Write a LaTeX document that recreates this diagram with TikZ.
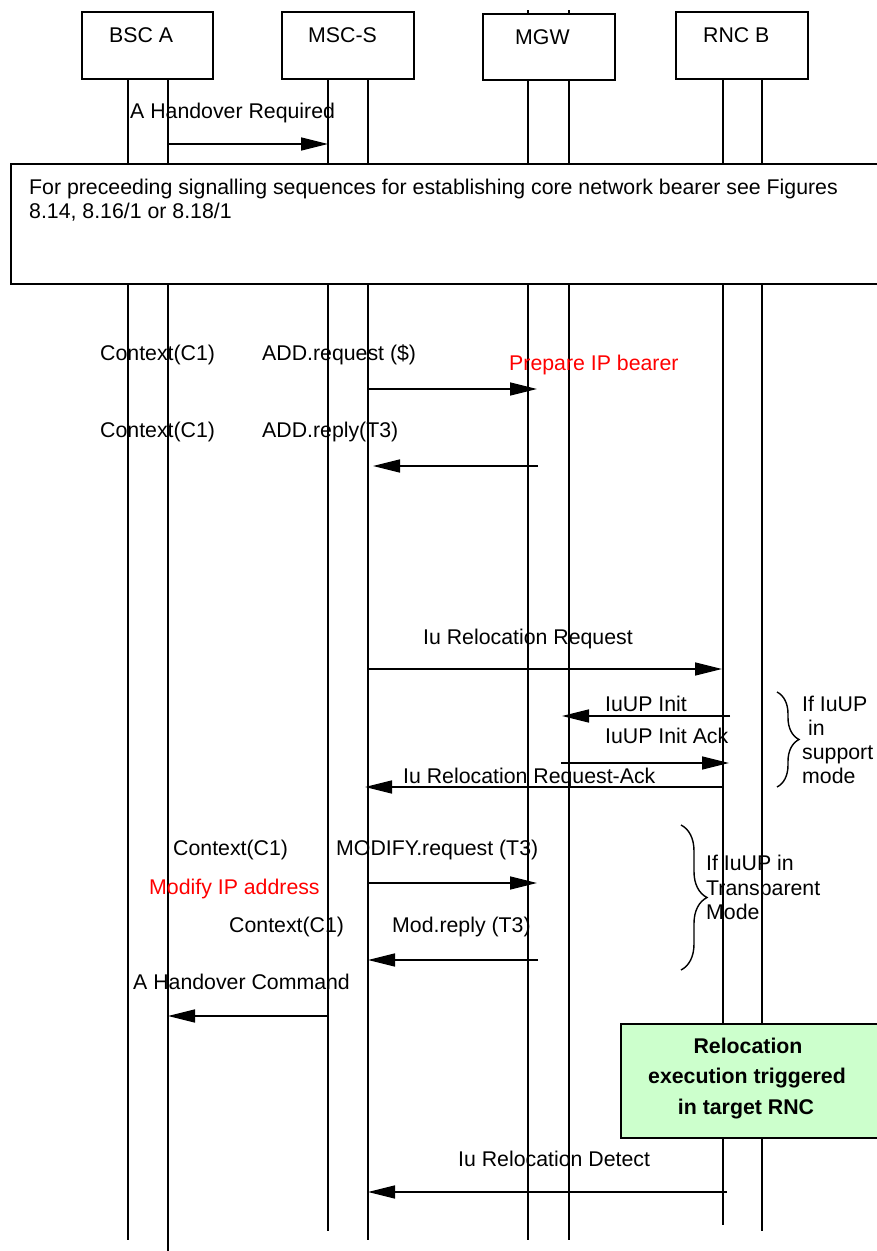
\documentclass[tikz,border=0pt]{standalone}
\usepackage{fontspec}
\setmainfont{Liberation Sans}
\usetikzlibrary{arrows.meta,decorations.pathreplacing}
\definecolor{boxgreen}{HTML}{CCFFCC}
\begin{document}
\begin{tikzpicture}[x=1pt,y=-1pt,
  txt/.style={anchor=base west, inner sep=0pt, font=\fontsize{21.3}{24.7}\selectfont},
  redtxt/.style={txt, text=red},
  boldtxt/.style={anchor=base, inner sep=0pt, font=\fontsize{21.3}{31}\selectfont\bfseries},
  msg/.style={line width=1.6pt, -{Triangle[length=27pt,width=13pt]}},
  life/.style={line width=1.6pt},
  ent/.style={draw, line width=1.6pt, fill=white, inner sep=0pt},
  brc/.style={line width=1.4pt, decorate}
]
\clip (0,0) rectangle (877,1251);
\fill[white] (0,0) rectangle (877,1251);

% lifelines
\draw[life] (128,78) -- (128,1240);
\draw[life] (168,78) -- (168,1260);
\draw[life] (328,78) -- (328,1231);
\draw[life] (368,78) -- (368,1240);
\draw[life] (528,10) -- (528,1240);
\draw[life] (569,10) -- (569,1240);
\draw[life] (723,78) -- (723,1225);
\draw[life] (762,78) -- (762,1231);

% entity boxes
\node[ent, minimum width=131pt, minimum height=67pt, anchor=north west] (bsca) at (81,11) {};
\node[ent, minimum width=132pt, minimum height=67pt, anchor=north west] (mscs) at (281,11) {};
\node[ent, minimum width=132pt, minimum height=66pt, anchor=north west] (mgw) at (482,13) {};
\node[ent, minimum width=132pt, minimum height=67pt, anchor=north west] (rncb) at (675,11) {};
\node[txt] (tbsca) at (109,42) {BSC A};
\node[txt] (tmscs) at (308,42) {MSC-S};
\node[txt] (tmgw) at (515,44) {MGW};
\node[txt] (trncb) at (703,42) {RNC B};

% A Handover Required
\node[txt] (l1) at (130,118) {A Handover Required};
\coordinate (a1s) at (168,144); \coordinate (a1e) at (328,144);
\draw[msg] (a1s) -- (a1e);

% preceding box
\node[ent, minimum width=880pt, minimum height=120pt, anchor=north west] (pre) at (10,163) {};
\node[txt] (pre1) at (29,194) {For preceeding signalling sequences for establishing core network bearer see Figures};
\node[txt] (pre2) at (29,218) {8.14, 8.16/1 or 8.18/1};

% ADD request / reply
\node[txt] (c1) at (100,360) {Context(C1)};
\node[txt] (addreq) at (262,360) {ADD.request (\$)};
\node[redtxt] (prep) at (509,370) {Prepare IP bearer};
\coordinate (a2s) at (368,389); \coordinate (a2e) at (537,389);
\draw[msg] (a2s) -- (a2e);
\node[txt] (c2) at (100,437) {Context(C1)};
\node[txt] (addrep) at (262,437) {ADD.reply(T3)};
\coordinate (a3s) at (538,466); \coordinate (a3e) at (373,466);
\draw[msg] (a3s) -- (a3e);

% Iu Relocation Request
\node[txt] (irr) at (423,644) {Iu Relocation Request};
\coordinate (a4s) at (368,669); \coordinate (a4e) at (722,669);
\draw[msg] (a4s) -- (a4e);

% IuUP Init
\node[txt] (iui) at (605,711) {IuUP Init};
\coordinate (a5s) at (730,716); \coordinate (a5e) at (562,716);
\draw[msg] (a5s) -- (a5e);
\node[txt] (iuia) at (605,743) {IuUP Init Ack};
\coordinate (a6s) at (561,763); \coordinate (a6e) at (729,763);
\draw[msg] (a6s) -- (a6e);
\node[txt] (irra) at (403,783) {Iu Relocation Request-Ack};
\coordinate (a7s) at (723,787); \coordinate (a7e) at (365,787);
\draw[msg] (a7s) -- (a7e);

% brace 1
\coordinate (b1t) at (777,692); \coordinate (b1b) at (777,787);
\draw[brc, decoration={brace, amplitude=22pt}] (b1t) -- (b1b);
\node[txt] (s1) at (802,711) {If IuUP};
\node[txt] (s2) at (802,735) {\hspace*{0.28em}in};
\node[txt] (s3) at (802,759) {support};
\node[txt] (s4) at (802,783) {mode};

% MODIFY
\node[txt] (c3) at (173,855) {Context(C1)};
\node[txt] (modreq) at (336,855) {MODIFY.request (T3)};
\node[redtxt] (modip) at (149,894) {Modify IP address};
\coordinate (a8s) at (368,883); \coordinate (a8e) at (537,883);
\draw[msg] (a8s) -- (a8e);
\node[txt] (c4) at (229,932) {Context(C1)};
\node[txt] (modrep) at (392,932) {Mod.reply (T3)};
\coordinate (a9s) at (538,960); \coordinate (a9e) at (368,960);
\draw[msg] (a9s) -- (a9e);

% brace 2
\coordinate (b2t) at (681,825); \coordinate (b2b) at (681,970);
\draw[brc, decoration={brace, amplitude=26pt}] (b2t) -- (b2b);
\node[txt] (t1) at (706,870) {If IuUP in};
\node[txt] (t2) at (706,895) {Transparent};
\node[txt] (t3) at (706,919) {Mode};

% A Handover Command
\node[txt] (hc) at (133,989) {A Handover Command};
\coordinate (a10s) at (328,1016); \coordinate (a10e) at (168,1016);
\draw[msg] (a10s) -- (a10e);

% green box
\node[ent, fill=boxgreen, minimum width=270pt, minimum height=114pt, anchor=north west] (green) at (620,1023) {};
\node[boldtxt] (g1) at (748,1053) {Relocation};
\node[boldtxt] (g2) at (747,1083) {execution triggered};
\node[boldtxt] (g3) at (746,1114) {in target RNC};

% Iu Relocation Detect
\node[txt] (ird) at (458,1166) {Iu Relocation Detect};
\coordinate (a11s) at (727,1192); \coordinate (a11e) at (368,1192);
\draw[msg] (a11s) -- (a11e);
\end{tikzpicture}
\end{document}
